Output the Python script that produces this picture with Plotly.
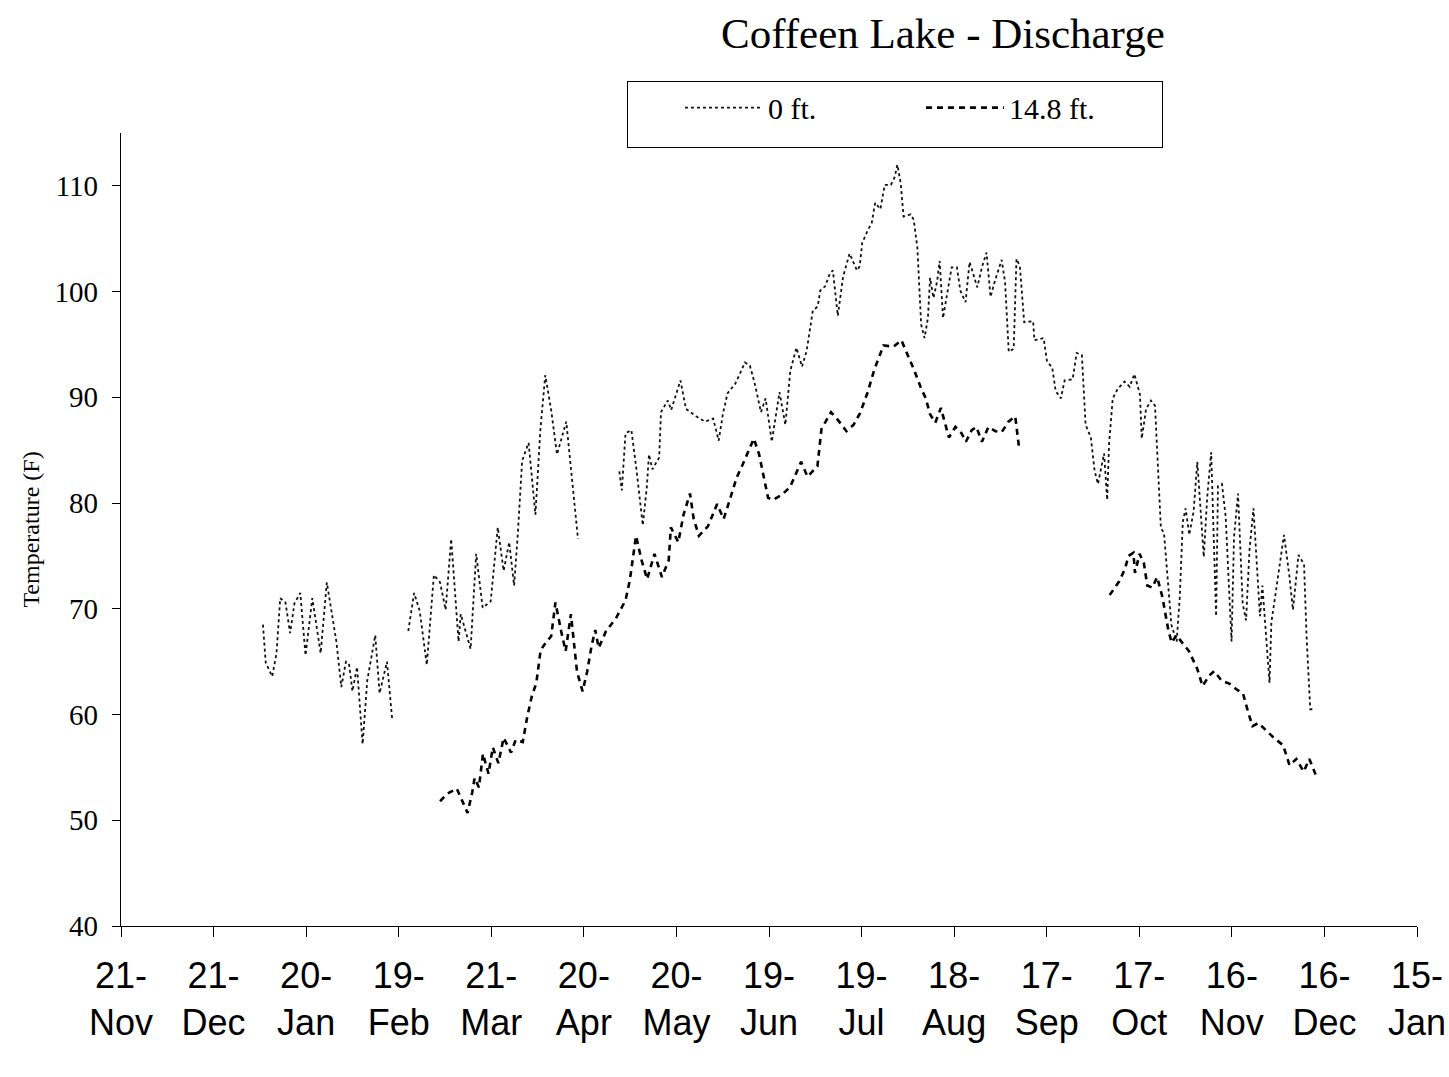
import plotly.graph_objects as go

# Day offsets counted from 21-Nov (axis origin); temperatures in deg F
tick_days = [0, 30, 60, 90, 120, 150, 180, 210, 240, 270, 300, 330, 360, 390, 420]
tick_labels = ["21-<br>Nov", "21-<br>Dec", "20-<br>Jan", "19-<br>Feb", "21-<br>Mar",
               "20-<br>Apr", "20-<br>May", "19-<br>Jun", "19-<br>Jul", "18-<br>Aug",
               "17-<br>Sep", "17-<br>Oct", "16-<br>Nov", "16-<br>Dec", "15-<br>Jan"]

# 0 ft. series (three recorded segments)
surf_days_1 = [46.0, 46.9, 49.0, 50.4, 51.6, 53.3, 54.8, 56.2, 58.1, 59.8, 62.0, 64.7, 66.7,
               68.7, 69.8, 71.4, 72.9, 73.9, 75.0, 76.5, 78.3, 79.8, 82.4, 83.8, 86.2, 87.9]
surf_temp_1 = [68.5, 64.9, 63.6, 65.8, 71.0, 70.6, 67.7, 70.5, 71.5, 65.6, 71.0, 65.8, 72.5,
               68.8, 66.9, 62.6, 65.0, 64.8, 62.2, 64.5, 57.2, 63.2, 67.5, 62.0, 65.0, 59.5]

surf_days_2 = [93.1, 95.0, 96.8, 99.1, 101.4, 103.4, 105.2, 107.0, 109.4, 110.1, 113.3, 115.1,
               117.2, 119.8, 122.1, 124.0, 125.8, 127.4, 128.6, 130.0, 132.1, 134.3, 135.9,
               137.5, 139.4, 141.3, 144.3, 148.1]
surf_temp_2 = [67.9, 71.5, 69.8, 64.7, 73.2, 72.5, 69.9, 76.6, 66.9, 69.5, 66.2, 75.2,
               70.1, 70.7, 77.7, 73.6, 76.3, 72.2, 77.1, 84.0, 85.7, 78.9, 86.9,
               92.1, 88.8, 84.6, 87.7, 76.6]

surf_days_3 = [161.5, 162.3, 163.5, 165.4, 167.0, 169.1, 170.4, 171.1, 172.2, 174.4,
               175.0, 177.2, 178.3, 181.3, 183.1, 186.4, 189.3, 191.9, 193.7, 195.1,
               196.6, 199.1, 202.2, 203.8, 205.3, 207.4, 208.9, 210.9, 213.4, 215.3,
               216.9, 218.9, 220.7, 222.2, 224.2, 225.8, 226.6, 228.2, 229.7, 230.7,
               232.3, 234.0, 236.1, 237.1, 238.5, 239.4, 240.2, 241.7, 243.3, 244.4,
               246.1, 247.5, 249.5, 250.7, 251.6, 252.7, 253.6, 255.9, 256.9, 258.1,
               259.3, 260.4, 261.5, 262.2, 263.3, 264.5, 265.3, 266.4, 267.8, 269.2,
               270.9, 272.0, 273.7, 275.0, 277.5, 279.0, 280.5, 281.8, 283.3, 285.4,
               286.5, 287.7, 289.3, 290.2, 291.3, 292.7, 295.6, 296.0, 299.0, 300.1,
               301.8, 302.9, 304.6, 305.8, 308.4, 309.7, 311.4, 312.6, 314.3, 315.5,
               316.6, 318.6, 319.6, 320.2, 321.4, 323.0, 325.2, 326.9, 328.4, 330.2,
               330.8, 332.2, 333.8, 335.1, 337.0, 338.0, 340.4, 342.1, 343.1, 344.1,
               345.0, 346.2, 347.6, 348.8, 350.9, 352.0, 353.3, 354.9, 355.5, 356.8,
               358.0, 359.9, 360.7, 362.0, 363.5, 364.6, 365.7, 367.0, 369.1, 369.9,
               372.2, 372.8, 374.2, 375.5, 376.9, 378.6, 379.8, 381.6, 383.4, 384.2,
               385.4, 386.4]
surf_temp_3 = [83.0, 81.2, 86.6, 86.9, 83.3, 77.9, 81.5, 84.6, 83.2, 84.3,
               88.6, 89.7, 88.8, 91.6, 88.9, 88.2, 87.7, 88.0, 85.9, 88.5,
               90.4, 91.3, 93.3, 93.0, 91.4, 88.6, 89.9, 85.8, 90.5, 87.4,
               92.5, 94.7, 92.9, 94.4, 98.2, 98.6, 100.1, 100.5, 101.7, 102.0,
               97.7, 101.4, 103.6, 103.0, 102.0, 102.4, 104.6, 105.6, 106.5, 108.4,
               107.8, 110.1, 110.1, 110.8, 112.0, 110.2, 107.1, 107.3, 106.8, 104.1,
               96.9, 95.6, 97.5, 101.3, 99.4, 101.0, 102.9, 97.5, 99.8, 102.3,
               102.3, 100.1, 99.0, 102.8, 100.4, 102.3, 103.7, 99.5, 101.1, 103.0,
               100.9, 94.3, 94.6, 103.1, 102.4, 97.1, 97.2, 95.4, 95.6, 93.4,
               92.8, 90.6, 89.9, 91.6, 91.7, 94.2, 94.0, 87.4, 86.2, 83.1,
               81.8, 84.7, 80.3, 85.6, 89.9, 90.8, 91.5, 91.0, 92.2, 90.3,
               86.1, 88.9, 89.7, 89.2, 77.6, 77.2, 68.5, 66.9, 71.0, 78.2,
               79.5, 77.0, 79.2, 83.9, 74.9, 80.5, 84.8, 69.3, 81.6, 81.8,
               78.7, 66.9, 76.8, 80.9, 70.5, 68.9, 75.5, 79.5, 69.3, 72.2,
               63.0, 68.7, 71.5, 74.4, 77.0, 73.2, 69.9, 75.1, 74.2, 67.5,
               60.5, 60.5]

# 14.8 ft. series (two recorded segments)
deep_days_1 = [103.4, 105.7, 108.8, 110.6, 112.3, 113.8, 114.6, 116.0, 117.3, 119.1,
               120.5, 122.3, 124.0, 126.4, 127.9, 130.2, 131.6, 133.1, 134.6, 136.0,
               137.9, 139.4, 140.8, 142.7, 144.1, 145.8, 146.6, 147.8, 149.6, 151.1,
               152.5, 153.7, 154.8, 157.2, 160.4, 163.5, 164.9, 166.9, 168.7, 170.5,
               172.9, 175.3, 177.5, 178.2, 180.6, 182.3, 184.4, 185.6, 187.3, 190.2,
               193.2, 195.3, 197.4, 199.5, 201.4, 205.1, 206.8, 209.7, 211.3, 214.2,
               216.8, 220.4, 222.5, 225.7, 227.0, 230.1, 232.5, 235.1, 237.4, 239.5,
               242.0, 244.1, 247.1, 250.4, 252.9, 254.6, 257.0, 259.1, 260.8, 262.2,
               263.9, 265.7, 266.5, 268.3, 270.4, 272.4, 273.8, 275.7, 277.2, 279.0,
               281.1, 283.4, 285.4, 287.6, 289.8, 291.0]
deep_temp_1 = [51.8, 52.5, 53.0, 51.8, 50.7, 52.6, 54.0, 53.1, 56.3, 54.4,
               56.9, 55.4, 57.8, 56.4, 57.6, 57.4, 59.7, 61.7, 63.0, 66.1,
               66.9, 67.4, 70.6, 67.8, 66.0, 69.5, 67.4, 64.0, 62.2, 64.1,
               66.5, 68.0, 66.3, 67.9, 69.1, 70.8, 72.7, 76.9, 74.6, 72.8,
               75.2, 73.0, 74.6, 77.7, 76.3, 78.9, 80.9, 78.5, 76.9, 77.8,
               79.9, 78.5, 80.4, 82.4, 83.6, 86.1, 84.6, 80.5, 80.3, 80.8,
               81.5, 83.9, 82.5, 83.5, 87.0, 88.6, 87.8, 86.8, 87.4, 88.5,
               90.5, 92.6, 94.9, 94.8, 95.4, 94.3, 92.6, 91.0, 89.9, 88.4,
               87.6, 89.0, 88.1, 86.2, 87.2, 86.6, 85.8, 86.9, 87.2, 85.8,
               87.2, 86.8, 86.7, 87.7, 88.2, 85.3]

deep_days_2 = [320.4, 323.5, 325.4, 326.5, 328.1, 328.6, 330.1, 331.5, 332.6, 334.2,
               335.8, 337.5, 339.4, 340.5, 342.0, 343.7, 346.1, 348.8, 350.5, 352.7,
               354.3, 356.7, 359.3, 361.9, 363.6, 365.3, 366.7, 368.6, 371.0, 373.6,
               376.6, 378.7, 380.9, 383.3, 385.1, 387.6]
deep_temp_2 = [71.3, 72.6, 73.8, 75.0, 75.3, 73.4, 75.2, 74.3, 72.2, 72.0,
               73.0, 71.1, 68.0, 66.8, 67.5, 66.9, 66.0, 64.3, 62.7, 63.7,
               64.1, 63.2, 62.9, 62.3, 62.0, 60.2, 58.9, 59.2, 58.5, 57.8,
               57.1, 55.2, 55.8, 54.6, 55.8, 54.0]

x_surf = surf_days_1 + [None] + surf_days_2 + [None] + surf_days_3
y_surf = surf_temp_1 + [None] + surf_temp_2 + [None] + surf_temp_3
x_deep = deep_days_1 + [None] + deep_days_2
y_deep = deep_temp_1 + [None] + deep_temp_2

serif = "Liberation Serif, Times New Roman, serif"
sans = "Liberation Sans, Arial, sans-serif"

fig = go.Figure()
fig.add_trace(go.Scatter(x=x_surf, y=y_surf, mode="lines", name="0 ft.",
                         line=dict(color="#111111", width=1.8, dash="dot"),
                         connectgaps=False))
fig.add_trace(go.Scatter(x=x_deep, y=y_deep, mode="lines", name="14.8 ft.",
                         line=dict(color="#000000", width=2.6, dash="6px,5px"),
                         connectgaps=False))

fig.update_layout(
    width=1449, height=1077,
    paper_bgcolor="white", plot_bgcolor="white",
    margin=dict(l=121, r=32, t=133, b=151, autoexpand=False),
    showlegend=True,
    legend=dict(orientation="h", x=0.3904, y=1.066, xanchor="left", yanchor="top",
                bordercolor="black", borderwidth=1, bgcolor="white",
                font=dict(family=serif, size=30, color="black"),
                title=dict(text="\u00a0\u00a0\u00a0\u00a0", side="left",
                           font=dict(family=serif, size=42)),
                entrywidth=148, entrywidthmode="pixels", itemwidth=78),
    annotations=[dict(text="Coffeen Lake - Discharge", x=0.634, y=1.126,
                      xref="paper", yref="paper", xanchor="center", yanchor="middle",
                      showarrow=False, font=dict(family=serif, size=43, color="black"))],
)
fig.update_xaxes(range=[0, 420], tickvals=tick_days, ticktext=tick_labels,
                 showline=True, linecolor="black", linewidth=1.2, automargin=False,
                 ticks="outside", ticklen=10, tickcolor="black", tickwidth=1.2,
                 showgrid=False, zeroline=False, ticklabelstandoff=8,
                 tickfont=dict(family=sans, size=36, color="black"))
fig.update_yaxes(range=[40, 115], tickvals=[40, 50, 60, 70, 80, 90, 100, 110],
                 showline=True, linecolor="black", linewidth=1.2, automargin=False,
                 ticks="outside", ticklen=8, tickcolor="black", tickwidth=1.2,
                 showgrid=False, zeroline=False, ticklabelstandoff=8,
                 tickfont=dict(family=serif, size=29, color="black"),
                 title=dict(text="Temperature (F)", standoff=8,
                            font=dict(family=serif, size=24, color="black")))

# remove the default page margin so the figure fills the window exactly
fig.write_html("out.html",
               config={"displayModeBar": False},
               post_script="document.body.style.margin='0px';document.body.style.overflow='hidden';")
